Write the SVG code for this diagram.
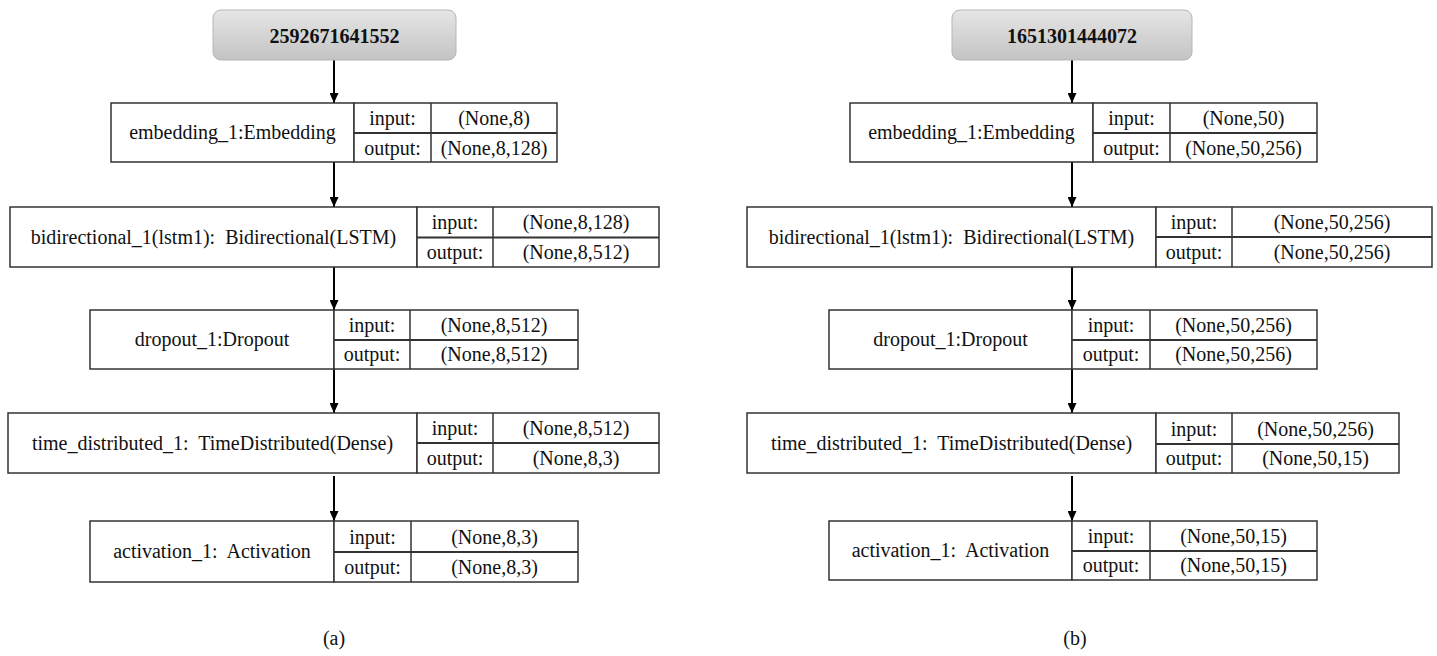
<svg xmlns="http://www.w3.org/2000/svg" width="1437" height="656" viewBox="0 0 1437 656">
<defs>
<linearGradient id="gTitle" x1="0" y1="0" x2="0" y2="1">
<stop offset="0" stop-color="#e6e6e6"/>
<stop offset="1" stop-color="#c3c3c3"/>
</linearGradient>
<marker id="arr" markerUnits="userSpaceOnUse" markerWidth="10" markerHeight="9" viewBox="0 0 10 9" refX="10" refY="4.5" orient="auto">
<path d="M0,0 L10,4.5 L0,9 z" fill="#000"/>
</marker>
</defs>
<style>
.t{font-family:"Liberation Serif","Times New Roman",serif;font-size:20px;fill:#111;text-anchor:middle;white-space:pre}
.b{font-weight:bold}
.box{fill:#fff;stroke:#333;stroke-width:1.5}
.ttl{fill:url(#gTitle);stroke:#b5b5b5;stroke-width:1}
.sep{stroke:#333;stroke-width:1.5}
.spl{stroke:#333;stroke-width:2.2}
.con{stroke:#000;stroke-width:2;fill:none;marker-end:url(#arr)}
</style>
<rect width="1437" height="656" fill="#fff"/>

<g id="connectors">
<line class="con" x1="334" y1="60" x2="334" y2="103"/>
<line class="con" x1="334" y1="162" x2="334" y2="207"/>
<line class="con" x1="334" y1="267" x2="334" y2="310"/>
<line class="con" x1="334" y1="369" x2="334" y2="413"/>
<line class="con" x1="334" y1="476" x2="334" y2="521"/>
<line class="con" x1="1072" y1="60" x2="1072" y2="103"/>
<line class="con" x1="1072" y1="162" x2="1072" y2="207"/>
<line class="con" x1="1072" y1="267" x2="1072" y2="310"/>
<line class="con" x1="1072" y1="369" x2="1072" y2="413"/>
<line class="con" x1="1072" y1="476" x2="1072" y2="521"/>
</g>

<!-- Left diagram (a) -->
<g id="a_input">
<rect class="ttl" x="213" y="10" width="243" height="50" rx="8"/>
<text class="t b" x="334.5" y="43">2592671641552</text>
</g>

<g id="a_embedding">
<rect class="box" x="111" y="103" width="243" height="59"/>
<rect class="box" x="354" y="103" width="203" height="59"/>
<line class="sep" x1="431" y1="103" x2="431" y2="162"/>
<line class="spl" x1="354" y1="133" x2="557" y2="133"/>
<text class="t" x="232.5" y="139">embedding_1:Embedding</text>
<text class="t" x="392.5" y="125">input:</text>
<text class="t" x="494" y="125">(None,8)</text>
<text class="t" x="392.5" y="155">output:</text>
<text class="t" x="494" y="155">(None,8,128)</text>
</g>

<g id="a_bidirectional">
<rect class="box" x="10" y="207" width="407" height="60"/>
<rect class="box" x="417" y="207" width="242" height="60"/>
<line class="sep" x1="493" y1="207" x2="493" y2="267"/>
<line class="spl" x1="417" y1="237.5" x2="659" y2="237.5"/>
<text class="t" x="213.5" y="244" xml:space="preserve">bidirectional_1(lstm1):  Bidirectional(LSTM)</text>
<text class="t" x="455" y="229">input:</text>
<text class="t" x="576" y="229">(None,8,128)</text>
<text class="t" x="455" y="259">output:</text>
<text class="t" x="576" y="259">(None,8,512)</text>
</g>

<g id="a_dropout">
<rect class="box" x="90" y="310" width="244" height="59"/>
<rect class="box" x="334" y="310" width="244" height="59"/>
<line class="sep" x1="410" y1="310" x2="410" y2="369"/>
<line class="spl" x1="334" y1="340" x2="578" y2="340"/>
<text class="t" x="212" y="346">dropout_1:Dropout</text>
<text class="t" x="372" y="332">input:</text>
<text class="t" x="494" y="332">(None,8,512)</text>
<text class="t" x="372" y="361">output:</text>
<text class="t" x="494" y="361">(None,8,512)</text>
</g>

<g id="a_time_distributed">
<rect class="box" x="8" y="413" width="409" height="60"/>
<rect class="box" x="417" y="413" width="242" height="60"/>
<line class="sep" x1="493" y1="413" x2="493" y2="473"/>
<line class="spl" x1="417" y1="443" x2="659" y2="443"/>
<text class="t" x="212.5" y="450" xml:space="preserve">time_distributed_1:  TimeDistributed(Dense)</text>
<text class="t" x="455" y="435">input:</text>
<text class="t" x="576" y="435">(None,8,512)</text>
<text class="t" x="455" y="465">output:</text>
<text class="t" x="576" y="465">(None,8,3)</text>
</g>

<g id="a_activation">
<rect class="box" x="90" y="521" width="244" height="61"/>
<rect class="box" x="334" y="521" width="244" height="61"/>
<line class="sep" x1="411" y1="521" x2="411" y2="582"/>
<line class="spl" x1="334" y1="552" x2="578" y2="552"/>
<text class="t" x="212" y="558" xml:space="preserve">activation_1:  Activation</text>
<text class="t" x="372.5" y="544">input:</text>
<text class="t" x="494.5" y="544">(None,8,3)</text>
<text class="t" x="372.5" y="574">output:</text>
<text class="t" x="494.5" y="574">(None,8,3)</text>
</g>

<text class="t" x="334" y="645">(a)</text>

<!-- Right diagram (b) -->
<g id="b_input">
<rect class="ttl" x="952" y="10" width="240" height="50" rx="8"/>
<text class="t b" x="1072" y="43">1651301444072</text>
</g>

<g id="b_embedding">
<rect class="box" x="850" y="103" width="243" height="59"/>
<rect class="box" x="1093" y="103" width="224" height="59"/>
<line class="sep" x1="1170" y1="103" x2="1170" y2="162"/>
<line class="spl" x1="1093" y1="133" x2="1317" y2="133"/>
<text class="t" x="971.5" y="139">embedding_1:Embedding</text>
<text class="t" x="1131.5" y="125">input:</text>
<text class="t" x="1243.5" y="125">(None,50)</text>
<text class="t" x="1131.5" y="155">output:</text>
<text class="t" x="1243.5" y="155">(None,50,256)</text>
</g>

<g id="b_bidirectional">
<rect class="box" x="747" y="207" width="409" height="60"/>
<rect class="box" x="1156" y="207" width="276" height="60"/>
<line class="sep" x1="1232" y1="207" x2="1232" y2="267"/>
<line class="spl" x1="1156" y1="237" x2="1432" y2="237"/>
<text class="t" x="951.5" y="244" xml:space="preserve">bidirectional_1(lstm1):  Bidirectional(LSTM)</text>
<text class="t" x="1194" y="229">input:</text>
<text class="t" x="1332" y="229">(None,50,256)</text>
<text class="t" x="1194" y="259">output:</text>
<text class="t" x="1332" y="259">(None,50,256)</text>
</g>

<g id="b_dropout">
<rect class="box" x="829" y="310" width="243" height="59"/>
<rect class="box" x="1072" y="310" width="245" height="59"/>
<line class="sep" x1="1150" y1="310" x2="1150" y2="369"/>
<line class="spl" x1="1072" y1="340" x2="1317" y2="340"/>
<text class="t" x="950.5" y="346">dropout_1:Dropout</text>
<text class="t" x="1111" y="332">input:</text>
<text class="t" x="1233.5" y="332">(None,50,256)</text>
<text class="t" x="1111" y="361">output:</text>
<text class="t" x="1233.5" y="361">(None,50,256)</text>
</g>

<g id="b_time_distributed">
<rect class="box" x="747" y="413" width="409" height="60"/>
<rect class="box" x="1156" y="413" width="243" height="60"/>
<line class="sep" x1="1232" y1="413" x2="1232" y2="473"/>
<line class="spl" x1="1156" y1="444" x2="1399" y2="444"/>
<text class="t" x="951.5" y="450" xml:space="preserve">time_distributed_1:  TimeDistributed(Dense)</text>
<text class="t" x="1194" y="436">input:</text>
<text class="t" x="1315.5" y="436">(None,50,256)</text>
<text class="t" x="1194" y="465">output:</text>
<text class="t" x="1315.5" y="465">(None,50,15)</text>
</g>

<g id="b_activation">
<rect class="box" x="829" y="521" width="243" height="59"/>
<rect class="box" x="1072" y="521" width="245" height="59"/>
<line class="sep" x1="1150" y1="521" x2="1150" y2="580"/>
<line class="spl" x1="1072" y1="551" x2="1317" y2="551"/>
<text class="t" x="950.5" y="557" xml:space="preserve">activation_1:  Activation</text>
<text class="t" x="1111" y="543">input:</text>
<text class="t" x="1233.5" y="543">(None,50,15)</text>
<text class="t" x="1111" y="572">output:</text>
<text class="t" x="1233.5" y="572">(None,50,15)</text>
</g>

<text class="t" x="1075" y="645">(b)</text>
</svg>
